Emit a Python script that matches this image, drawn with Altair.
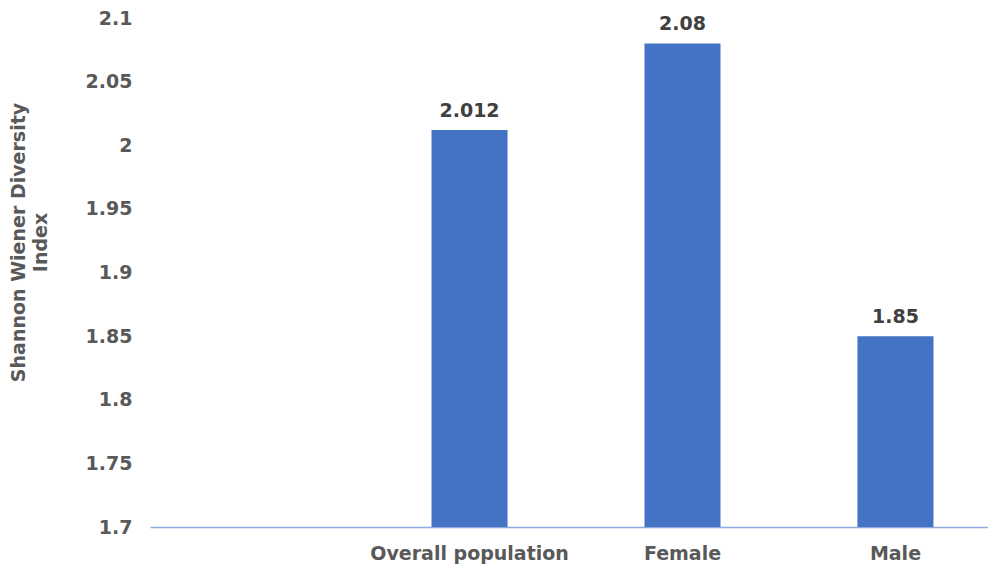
import altair as alt
import pandas as pd

categories = ["", "Overall population", "Female", "Male"]
values = [None, 2.012, 2.08, 1.85]
labels = ["", "2.012", "2.08", "1.85"]
y_ticks = [1.7, 1.75, 1.8, 1.85, 1.9, 1.95, 2.0, 2.05, 2.1]

df = pd.DataFrame({"cat": categories, "val": values, "lab": labels})

FONT = "DejaVu Sans"
GRAY = "#595959"

x = alt.X(
    "cat:N",
    sort=categories,
    title=None,
    scale=alt.Scale(paddingInner=0.643, paddingOuter=0.289, align=0.557),
    axis=alt.Axis(
        labelAngle=0, ticks=False, domainColor="#8FAADC", domainWidth=1.5,
        labelFont=FONT, labelFontSize=19, labelFontWeight="bold", labelColor=GRAY,
        labelPadding=17, labelLimit=0,
    ),
)
y = alt.Y(
    "val:Q",
    scale=alt.Scale(domain=[1.7, 2.1], zero=False, nice=False),
    title=["Shannon Wiener Diversity", "Index"],
    axis=alt.Axis(
        values=y_ticks, grid=False, domain=False, ticks=False,
        labelFont=FONT, labelFontSize=19, labelFontWeight="bold", labelColor=GRAY,
        labelPadding=18, labelExpr="format(datum.value, '')",
        titleFont=FONT, titleFontSize=19, titleFontWeight="bold", titleColor=GRAY,
        titleAngle=270, titleX=-141, titleY=224, titleBaseline="top",
        titleAlign="center", titleLineHeight=22,
    ),
)

bars = alt.Chart(df).mark_bar(color="#4472C4").encode(
    x=x, y=y, y2=alt.datum(1.7)
)
text = alt.Chart(df).transform_filter("isValid(datum.val)").mark_text(
    font=FONT, fontSize=19, fontWeight="bold", color="#404040",
    baseline="bottom", dy=-9,
).encode(x=x, y="val:Q", text="lab:N")

chart = (bars + text).properties(
    width=838, height=509,
    autosize=alt.AutoSizeParams(type="none"),
    padding={"left": 142, "top": 10, "right": 0, "bottom": 44},
).configure_view(stroke=None)

chart.save("out.html", embed_options={"renderer": "svg", "actions": False})
